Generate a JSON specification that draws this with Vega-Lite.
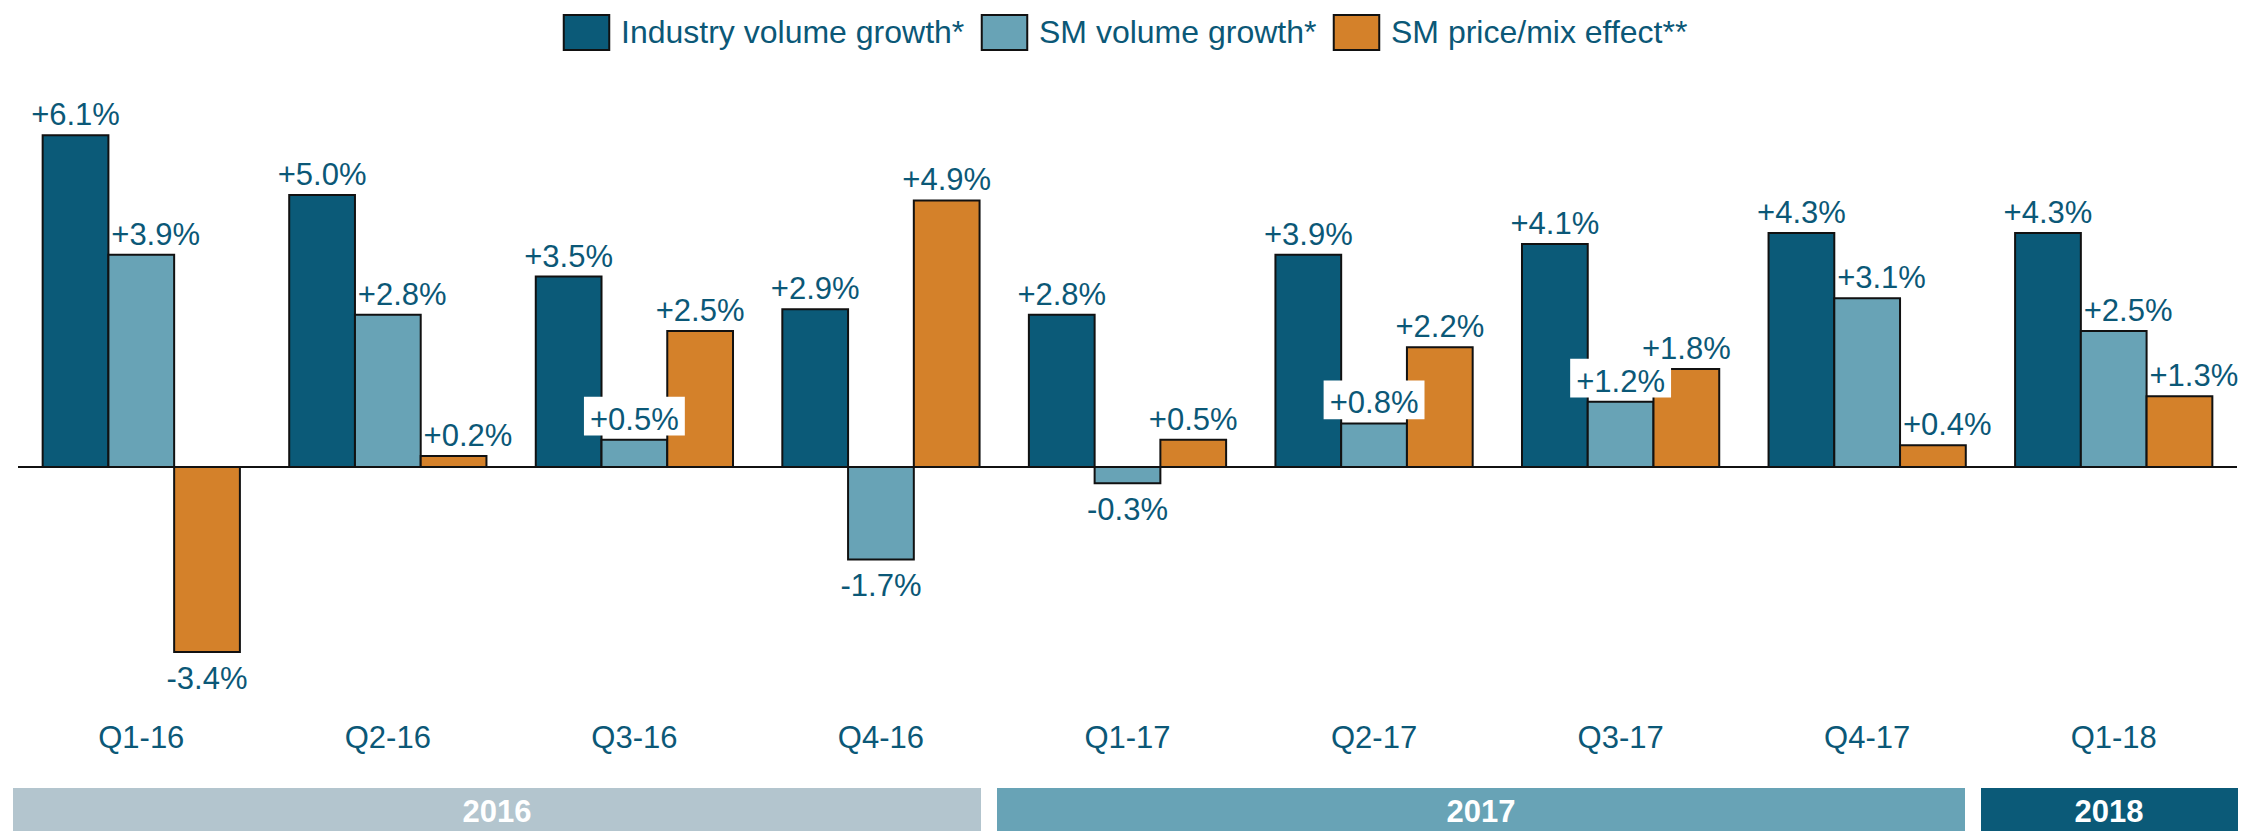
{
  "$schema": "https://vega.github.io/schema/vega-lite/v6.json",
  "padding": {"left": 13, "top": 14, "right": 0, "bottom": 0},
  "background": "white",
  "bounds": "flush",
  "spacing": 98,
  "config": {
    "view": {"stroke": null},
    "font": "Liberation Sans",
    "locale": {"number": {"decimal": ".", "thousands": ",", "grouping": [3], "currency": ["$", ""], "minus": "-"}}
  },
  "datasets": {
    "growth": [
      {"quarter": "Q1-16", "series": "Industry volume growth*", "value": 0.061},
      {"quarter": "Q1-16", "series": "SM volume growth*", "value": 0.039},
      {"quarter": "Q1-16", "series": "SM price/mix effect**", "value": -0.034},
      {"quarter": "Q2-16", "series": "Industry volume growth*", "value": 0.050},
      {"quarter": "Q2-16", "series": "SM volume growth*", "value": 0.028},
      {"quarter": "Q2-16", "series": "SM price/mix effect**", "value": 0.002},
      {"quarter": "Q3-16", "series": "Industry volume growth*", "value": 0.035},
      {"quarter": "Q3-16", "series": "SM volume growth*", "value": 0.005},
      {"quarter": "Q3-16", "series": "SM price/mix effect**", "value": 0.025},
      {"quarter": "Q4-16", "series": "Industry volume growth*", "value": 0.029},
      {"quarter": "Q4-16", "series": "SM volume growth*", "value": -0.017},
      {"quarter": "Q4-16", "series": "SM price/mix effect**", "value": 0.049},
      {"quarter": "Q1-17", "series": "Industry volume growth*", "value": 0.028},
      {"quarter": "Q1-17", "series": "SM volume growth*", "value": -0.003},
      {"quarter": "Q1-17", "series": "SM price/mix effect**", "value": 0.005},
      {"quarter": "Q2-17", "series": "Industry volume growth*", "value": 0.039},
      {"quarter": "Q2-17", "series": "SM volume growth*", "value": 0.008},
      {"quarter": "Q2-17", "series": "SM price/mix effect**", "value": 0.022},
      {"quarter": "Q3-17", "series": "Industry volume growth*", "value": 0.041},
      {"quarter": "Q3-17", "series": "SM volume growth*", "value": 0.012},
      {"quarter": "Q3-17", "series": "SM price/mix effect**", "value": 0.018},
      {"quarter": "Q4-17", "series": "Industry volume growth*", "value": 0.043},
      {"quarter": "Q4-17", "series": "SM volume growth*", "value": 0.031},
      {"quarter": "Q4-17", "series": "SM price/mix effect**", "value": 0.004},
      {"quarter": "Q1-18", "series": "Industry volume growth*", "value": 0.043},
      {"quarter": "Q1-18", "series": "SM volume growth*", "value": 0.025},
      {"quarter": "Q1-18", "series": "SM price/mix effect**", "value": 0.013}
    ],
    "years": [
      {"year": "2016", "from": 0, "to": 4},
      {"year": "2017", "from": 4, "to": 8},
      {"year": "2018", "from": 8, "to": 9}
    ]
  },
  "resolve": {"scale": {"x": "independent", "color": "independent", "y": "independent"}},
  "vconcat": [
    {
      "width": 2219,
      "height": 600,
      "data": {"name": "growth"},
      "layer": [
        {
          "mark": {"type": "bar", "stroke": "#111111", "strokeWidth": 2},
          "encoding": {
            "x": {"field": "quarter", "type": "nominal", "sort": null,
              "scale": {"paddingInner": 0.2, "paddingOuter": 0.1},
              "axis": {"title": null, "domain": false, "ticks": false, "tickSize": 0, "labelPadding": 33, "labelFontSize": 31, "labelColor": "#0b5877", "labelAngle": 0, "labelBaseline": "top", "labelFont": "Liberation Sans"}},
            "xOffset": {"field": "series", "type": "nominal", "sort": ["Industry volume growth*", "SM volume growth*", "SM price/mix effect**"], "scale": {"paddingInner": 0, "paddingOuter": 0}},
            "y": {"field": "value", "type": "quantitative", "scale": {"domain": [-0.041, 0.0693], "nice": false, "zero": false}, "axis": null},
            "color": {"field": "series", "type": "nominal",
              "scale": {"domain": ["Industry volume growth*", "SM volume growth*", "SM price/mix effect**"], "range": ["#0b5a78", "#68a3b6", "#d4812a"]},
              "legend": {"orient": "none", "legendX": 550, "legendY": -76, "direction": "horizontal", "title": null,
                "symbolType": "M-1.3,-1L1.3,-1L1.3,1L-1.3,1Z", "symbolSize": 1225, "symbolStrokeColor": "#111111", "symbolStrokeWidth": 2, "symbolOpacity": 1,
                "labelFontSize": 32, "labelColor": "#0b5877", "labelFont": "Liberation Sans", "labelOffset": 16, "columnPadding": 12, "labelLimit": 1000}}
          }
        },
        {
          "data": {"values": [{}]},
          "mark": {"type": "rule", "color": "#111111", "strokeWidth": 2},
          "encoding": {"y": {"datum": 0, "type": "quantitative"}}
        },
        {
          "transform": [
            {"filter": {"field": "series", "equal": "SM volume growth*"}},
            {"filter": {"field": "quarter", "oneOf": ["Q3-16", "Q2-17", "Q3-17"]}}
          ],
          "mark": {"type": "point", "shape": "M-1.3,-1.11L1.3,-1.11L1.3,-0.11L-1.3,-0.11Z", "size": 6022, "filled": true, "fill": "white", "opacity": 1, "strokeWidth": 0},
          "encoding": {
            "x": {"field": "quarter", "type": "nominal", "sort": null},
            "xOffset": {"field": "series", "type": "nominal", "sort": ["Industry volume growth*", "SM volume growth*", "SM price/mix effect**"]},
            "y": {"field": "value", "type": "quantitative"}
          }
        },
        {
          "transform": [{"filter": "datum.value >= 0 && !((datum.quarter == 'Q1-16' && datum.series == 'SM volume growth*') || (indexof(['Q2-16', 'Q4-17', 'Q1-18'], datum.quarter) >= 0 && datum.series != 'Industry volume growth*'))"}],
          "mark": {"type": "text", "baseline": "alphabetic", "dy": -10, "fontSize": 31, "color": "#0b5877", "font": "Liberation Sans"},
          "encoding": {
            "x": {"field": "quarter", "type": "nominal", "sort": null},
            "xOffset": {"field": "series", "type": "nominal", "sort": ["Industry volume growth*", "SM volume growth*", "SM price/mix effect**"]},
            "y": {"field": "value", "type": "quantitative"},
            "text": {"field": "value", "type": "quantitative", "format": "+.1%"}
          }
        },
        {
          "transform": [{"filter": "datum.value >= 0 && ((datum.quarter == 'Q1-16' && datum.series == 'SM volume growth*') || (indexof(['Q2-16', 'Q4-17', 'Q1-18'], datum.quarter) >= 0 && datum.series != 'Industry volume growth*'))"}],
          "mark": {"type": "text", "align": "left", "baseline": "alphabetic", "dx": -30, "dy": -10, "fontSize": 31, "color": "#0b5877", "font": "Liberation Sans"},
          "encoding": {
            "x": {"field": "quarter", "type": "nominal", "sort": null},
            "xOffset": {"field": "series", "type": "nominal", "sort": ["Industry volume growth*", "SM volume growth*", "SM price/mix effect**"]},
            "y": {"field": "value", "type": "quantitative"},
            "text": {"field": "value", "type": "quantitative", "format": "+.1%"}
          }
        },
        {
          "transform": [{"filter": "datum.value < 0"}],
          "mark": {"type": "text", "baseline": "top", "dy": 13, "fontSize": 31, "color": "#0b5877", "font": "Liberation Sans"},
          "encoding": {
            "x": {"field": "quarter", "type": "nominal", "sort": null},
            "xOffset": {"field": "series", "type": "nominal", "sort": ["Industry volume growth*", "SM volume growth*", "SM price/mix effect**"]},
            "y": {"field": "value", "type": "quantitative"},
            "text": {"field": "value", "type": "quantitative", "format": "+.1%"}
          }
        }
      ]
    },
    {
      "width": 2214,
      "height": 43,
      "data": {"name": "years"},
      "layer": [
        {
          "transform": [{"filter": "datum.year != '2018'"}],
          "mark": {"type": "rect", "xOffset": -5, "x2Offset": -21},
          "encoding": {
            "x": {"field": "from", "type": "quantitative", "scale": {"domain": [0, 9], "nice": false, "zero": false}, "axis": null},
            "x2": {"field": "to"},
            "color": {"field": "year", "type": "nominal", "scale": {"domain": ["2016", "2017", "2018"], "range": ["#b3c5ce", "#68a3b6", "#0b5a78"]}, "legend": null}
          }
        },
        {
          "transform": [{"filter": "datum.year == '2018'"}],
          "mark": {"type": "rect", "xOffset": -5, "x2Offset": 6},
          "encoding": {
            "x": {"field": "from", "type": "quantitative"},
            "x2": {"field": "to"},
            "color": {"field": "year", "type": "nominal"}
          }
        },
        {
          "transform": [
            {"filter": "datum.year != '2018'"},
            {"fold": ["from", "to"], "as": ["k", "v"]},
            {"aggregate": [{"op": "mean", "field": "v", "as": "mid"}], "groupby": ["year"]}
          ],
          "mark": {"type": "text", "color": "white", "fontSize": 31, "fontWeight": "bold", "font": "Liberation Sans", "dx": -13, "dy": 3},
          "encoding": {
            "x": {"field": "mid", "type": "quantitative"},
            "text": {"field": "year", "type": "nominal"}
          }
        },
        {
          "transform": [
            {"filter": "datum.year == '2018'"},
            {"fold": ["from", "to"], "as": ["k", "v"]},
            {"aggregate": [{"op": "mean", "field": "v", "as": "mid"}], "groupby": ["year"]}
          ],
          "mark": {"type": "text", "color": "white", "fontSize": 31, "fontWeight": "bold", "font": "Liberation Sans", "dx": 0, "dy": 3},
          "encoding": {
            "x": {"field": "mid", "type": "quantitative"},
            "text": {"field": "year", "type": "nominal"}
          }
        }
      ]
    }
  ]
}
